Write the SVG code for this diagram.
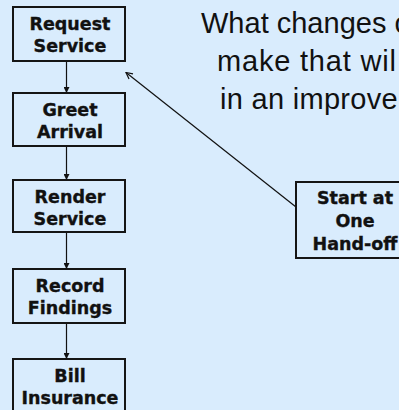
<svg xmlns="http://www.w3.org/2000/svg" width="399" height="410" viewBox="0 0 399 410">
<style>
.box{fill:#d9ecfd;stroke:#151515;stroke-width:2}
.bt{font-family:"DejaVu Sans",sans-serif;font-weight:bold;font-size:17.5px;fill:#111;stroke:#111;stroke-width:0.35;text-anchor:middle}
.q{font-family:"Liberation Sans",Arial,sans-serif;font-size:29px;fill:#111}
.c{stroke:#111;stroke-width:1.2;fill:none}
</style>
<defs>
<marker id="ah" viewBox="0 0 10 10" refX="10" refY="5" markerWidth="6" markerHeight="6" markerUnits="userSpaceOnUse" orient="auto">
<path d="M0,0 L10,5 L0,10 z" fill="#111"/>
</marker>
<marker id="oa" viewBox="0 0 10 10" refX="9" refY="5" markerWidth="8" markerHeight="8" markerUnits="userSpaceOnUse" orient="auto">
<path d="M1,1 L9,5 L1,9" fill="none" stroke="#111" stroke-width="1.5"/>
</marker>
</defs>
<rect width="399" height="410" fill="#d9ecfd"/>
<g id="question">
<text class="q" x="201" y="33">What changes c</text>
<text class="q" x="217" y="71" letter-spacing="0.8">make that wil</text>
<text class="q" x="220" y="109" letter-spacing="0.3">in an improve</text>
</g>
<g id="connectors">
<line class="c" x1="66.5" y1="61" x2="66.5" y2="93" marker-end="url(#ah)"/>
<line class="c" x1="66.5" y1="146" x2="66.5" y2="180" marker-end="url(#ah)"/>
<line class="c" x1="66.5" y1="232" x2="66.5" y2="269" marker-end="url(#ah)"/>
<line class="c" x1="66.5" y1="323" x2="66.5" y2="359" marker-end="url(#ah)"/>
<line class="c" x1="296" y1="207" x2="126" y2="72.5" marker-end="url(#oa)"/>
</g>
<g id="request">
<rect class="box" x="13" y="7" width="112" height="54"/>
<text class="bt" x="70" y="30">Request</text>
<text class="bt" x="70" y="52">Service</text>
</g>
<g id="greet">
<rect class="box" x="13" y="93" width="112" height="53"/>
<text class="bt" x="70" y="116">Greet</text>
<text class="bt" x="70" y="138">Arrival</text>
</g>
<g id="render">
<rect class="box" x="13" y="180" width="112" height="52"/>
<text class="bt" x="70" y="203">Render</text>
<text class="bt" x="70" y="225">Service</text>
</g>
<g id="record">
<rect class="box" x="13" y="269" width="112" height="54"/>
<text class="bt" x="70" y="292">Record</text>
<text class="bt" x="70" y="314">Findings</text>
</g>
<g id="bill">
<rect class="box" x="13" y="359" width="112" height="53"/>
<text class="bt" x="70" y="382">Bill</text>
<text class="bt" x="70" y="404">Insurance</text>
</g>
<g id="start">
<rect class="box" x="296" y="182" width="116" height="76"/>
<text class="bt" x="355" y="204">Start at</text>
<text class="bt" x="355" y="227">One</text>
<text class="bt" x="355" y="250">Hand-off</text>
</g>
</svg>
